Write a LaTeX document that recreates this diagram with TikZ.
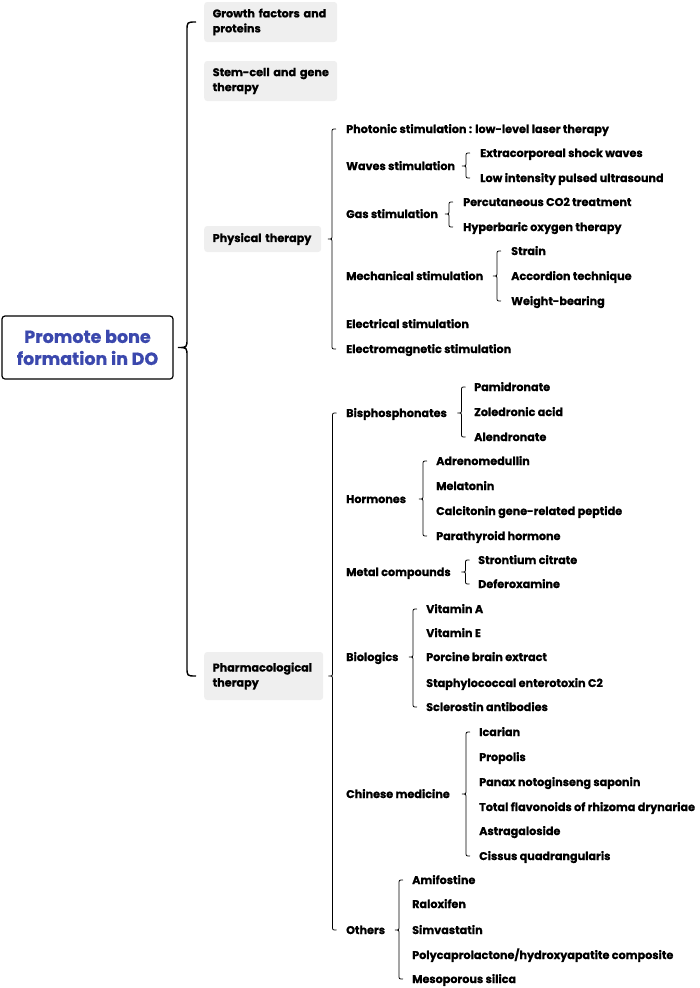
\documentclass[tikz,border=0pt]{standalone}
\usepackage{fontspec}
\setmainfont{Poppins}[BoldFeatures={FakeBold=0.8}]
\usetikzlibrary{calc}

\definecolor{rootblue}{HTML}{3B48AD}
\definecolor{boxgray}{HTML}{EFEFEF}

% curly bracket from a parent node to its first and last child
\newcommand\curly[6][]{%
  \draw[link, #1] let \p3=(#4.center), \p1=(#5.west), \p2=(#6.west), \n1={\x1-#2} in
    (\n1+#3,\y1) .. controls (\n1,\y1) .. (\n1,\y1-#3)
    -- (\n1,\y3+#3) .. controls (\n1,\y3) .. (\n1-#3,\y3)
    .. controls (\n1,\y3) .. (\n1,\y3-#3)
    -- (\n1,\y2+#3) .. controls (\n1,\y2) .. (\n1+#3,\y2);
}

\begin{document}
\begin{tikzpicture}[
    x=1pt, y=1pt,
    root/.style={draw, rounded corners=3pt, line width=1.2pt, minimum width=171pt,
                 minimum height=63pt, align=center, text=rootblue,
                 font=\fontsize{17.5}{22}\selectfont\bfseries},
    box/.style={fill=boxgray, rounded corners=3pt, anchor=west, inner xsep=8.5pt,
                align=left, font=\fontsize{11.2}{15}\selectfont\bfseries},
    item/.style={anchor=west, inner sep=0pt, text height=8pt, text depth=0pt,
                 font=\fontsize{11.2}{15}\selectfont\bfseries},
    link/.style={line width=0.8pt}
  ]
  \useasboundingbox (0,0) rectangle (699,-988);

  \node[root] (root) at (87.5,-347.5) {Promote bone\\formation in DO};

  \node[box, text width=116pt, minimum height=40pt] (growth) at (204,-22) {\mbox{Growth factors and}\\proteins};
  \node[box, text width=116pt, minimum height=40pt] (stem) at (204,-81) {\mbox{Stem-cell and gene}\\therapy};
  \node[box, text width=100pt, minimum height=26pt] (phys) at (204,-239) {\mbox{Physical therapy}};
  \node[box, text width=102pt, minimum height=48pt] (pharm) at (204,-676) {\mbox{Pharmacological}\\therapy};

  % physical therapy
  \node[item] (photonic) at (346,-129) {Photonic stimulation : low-level laser therapy};
  \node[item] (waves) at (346,-166) {Waves stimulation};
  \node[item] (gas) at (346,-214) {Gas stimulation};
  \node[item] (mech) at (346,-276) {Mechanical stimulation};
  \node[item] (elec) at (346,-324) {Electrical stimulation};
  \node[item] (emag) at (346,-349) {Electromagnetic stimulation};

  \node[item] (shock) at (480,-153) {Extracorporeal shock waves};
  \node[item] (lipus) at (480,-178) {Low intensity pulsed ultrasound};
  \node[item] (co2) at (463,-202) {Percutaneous CO2 treatment};
  \node[item] (hbo) at (463,-227) {Hyperbaric oxygen therapy};
  \node[item] (strain) at (511,-251) {Strain};
  \node[item] (accord) at (511,-276) {Accordion technique};
  \node[item] (weight) at (511,-301) {Weight-bearing};

  % pharmacological therapy
  \node[item] (bisph) at (346,-413) {Bisphosphonates};
  \node[item] (horm) at (346,-499) {Hormones};
  \node[item] (metal) at (346,-572) {Metal compounds};
  \node[item] (bio) at (346,-657) {Biologics};
  \node[item] (chin) at (346,-794) {Chinese medicine};
  \node[item] (others) at (346,-930) {Others};

  \node[item] (pami) at (474,-387) {Pamidronate};
  \node[item] (zole) at (474,-412) {Zoledronic acid};
  \node[item] (alen) at (474,-437) {Alendronate};

  \node[item] (adreno) at (436,-461) {Adrenomedullin};
  \node[item] (mela) at (436,-486) {Melatonin};
  \node[item] (calci) at (436,-511) {Calcitonin gene-related peptide};
  \node[item] (para) at (436,-536) {Parathyroid hormone};

  \node[item] (stront) at (478,-560) {Strontium citrate};
  \node[item] (defer) at (478,-584) {Deferoxamine};

  \node[item] (vita) at (426,-609) {Vitamin A};
  \node[item] (vite) at (426,-633) {Vitamin E};
  \node[item] (porc) at (426,-657) {Porcine brain extract};
  \node[item] (staph) at (426,-683) {Staphylococcal enterotoxin C2};
  \node[item] (scler) at (426,-707) {Sclerostin antibodies};

  \node[item] (icar) at (479,-732) {Icarian};
  \node[item] (prop) at (479,-757) {Propolis};
  \node[item] (panax) at (479,-782) {Panax notoginseng saponin};
  \node[item] (flav) at (479,-807) {Total flavonoids of rhizoma drynariae};
  \node[item] (astra) at (479,-831) {Astragaloside};
  \node[item] (cissus) at (479,-856) {Cissus quadrangularis};

  \node[item] (amif) at (412,-880) {Amifostine};
  \node[item] (ralo) at (412,-904) {Raloxifen};
  \node[item] (simva) at (412,-930) {Simvastatin};
  \node[item] (pcl) at (412,-955) {Polycaprolactone/hydroxyapatite composite};
  \node[item] (meso) at (412,-979) {Mesoporous silica};

  % brackets
  \curly[line width=1.4pt]{17pt}{9pt}{root}{growth}{pharm}
  \curly{14pt}{4pt}{phys}{photonic}{emag}
  \curly{14pt}{4pt}{waves}{shock}{lipus}
  \curly{14pt}{4pt}{gas}{co2}{hbo}
  \curly{14pt}{4pt}{mech}{strain}{weight}
  \curly{13.5pt}{4pt}{pharm}{bisph}{others}
  \curly{12.5pt}{4pt}{bisph}{pami}{alen}
  \curly{13pt}{4pt}{horm}{adreno}{para}
  \curly{12.5pt}{4pt}{metal}{stront}{defer}
  \curly{13pt}{4pt}{bio}{vita}{scler}
  \curly{13pt}{4pt}{chin}{icar}{cissus}
  \curly{13pt}{4pt}{others}{amif}{meso}
\end{tikzpicture}
\end{document}
